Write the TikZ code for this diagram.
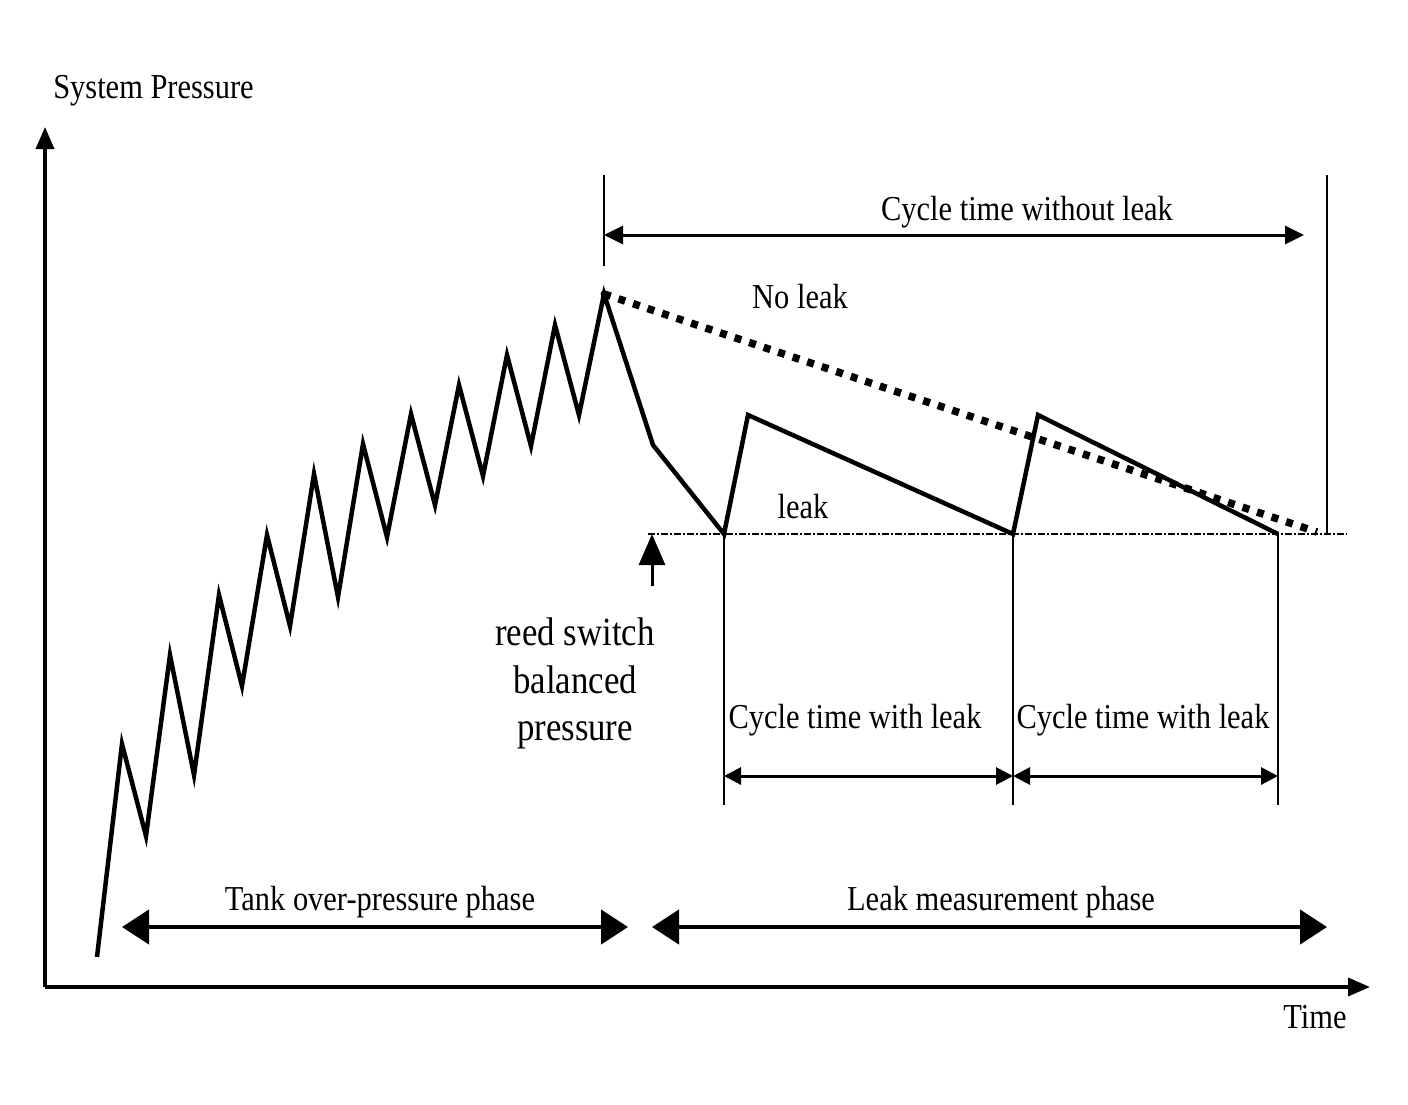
\documentclass[tikz,border=0pt]{standalone}
\usepackage{fontspec}
\setmainfont{Liberation Serif}[FakeStretch=0.87]
\usetikzlibrary{arrows.meta}
\tikzset{
  lbl/.style={anchor=base, inner sep=0pt, font=\fontsize{35}{40}\selectfont},
  biglbl/.style={anchor=base, inner sep=0pt, font=\fontsize{40}{46}\selectfont},
  axis/.style={line width=3.6pt, -{Triangle[length=22pt,width=18pt]}},
  curve/.style={line width=4.5pt, line join=miter, miter limit=10},
  noleak/.style={line width=7.5pt, dash pattern=on 7pt off 8.3pt},
  refline/.style={line width=1.4pt, dash pattern=on 7pt off 2pt on 2pt off 2pt},
  guide/.style={line width=1.4pt},
  phase/.style={line width=4.5pt, {Triangle[length=27pt,width=34pt]}-{Triangle[length=27pt,width=34pt]}},
  cyc/.style={line width=3pt, {Triangle[length=17pt,width=17pt]}-{Triangle[length=17pt,width=17pt]}},
  cycone/.style={line width=3pt, {Triangle[length=19pt,width=18pt]}-{Triangle[length=19pt,width=18pt]}},
  upar/.style={line width=3pt, -{Triangle[length=31pt,width=26pt]}}
}
\begin{document}
\begin{tikzpicture}[x=1pt,y=-1pt]
\useasboundingbox (0,0) rectangle (1408,1104);
% axes
\coordinate (O) at (45,987);
\coordinate (ytip) at (45,127);
\coordinate (xtip) at (1370,987);
\draw[axis] (O) -- (ytip);
\draw[axis] (O) -- (xtip);
% key points
\coordinate (peak) at (604,294);
\coordinate (k1) at (653,445);
\coordinate (b1) at (724,534);
\coordinate (t1) at (748,415);
\coordinate (b2) at (1013,534);
\coordinate (t2) at (1038,415);
\coordinate (b3) at (1278,534);
\coordinate (nlend) at (1317,532);
% reference (balanced) line
\coordinate (rl) at (648,534);
\coordinate (rr) at (1347,534);
\draw[refline] (rl) -- (rr);
% no leak
\draw[noleak] (peak) -- (nlend);
% pressure curve
\draw[curve] (97,957) -- (122,744) -- (146,836) -- (170,655) -- (194,775) -- (219,595)
  -- (242,686) -- (267,535) -- (290,626) -- (314,474) -- (338,597) -- (363,444)
  -- (387,537) -- (411,414) -- (435,505) -- (459,385) -- (483,476) -- (507,355)
  -- (531,446) -- (555,325) -- (579,415) -- (peak) -- (k1) -- (b1) -- (t1) -- (b2) -- (t2) -- (b3);
\fill (peak) circle (3.5pt);
% guides
\coordinate (g0t) at (604,175); \coordinate (g0b) at (604,266);
\coordinate (g4t) at (1327,175); \coordinate (g4b) at (1327,534);
\coordinate (g1b) at (724,805); \coordinate (g2b) at (1013,805); \coordinate (g3b) at (1278,805);
\draw[guide] (g0t) -- (g0b);
\draw[guide] (g4t) -- (g4b);
\draw[guide] (b1) -- (g1b);
\draw[guide] (b2) -- (g2b);
\draw[guide] (b3) -- (g3b);
% cycle without leak
\coordinate (cw1) at (604,235); \coordinate (cw2) at (1304,235);
\draw[cycone] (cw1) -- (cw2);
% cycles with leak
\coordinate (c1) at (724,776); \coordinate (c2) at (1013,776); \coordinate (c3) at (1278,776);
\draw[cyc] (c1) -- (c2);
\draw[cyc] (c2) -- (c3);
% phases
\coordinate (p1) at (122,927); \coordinate (p2) at (628,927);
\coordinate (p3) at (652,927); \coordinate (p4) at (1327,927);
\draw[phase] (p1) -- (p2);
\draw[phase] (p3) -- (p4);
% reed switch arrow
\coordinate (ra) at (652,586); \coordinate (rt) at (652,534);
\draw[upar] (ra) -- (rt);
% labels
\node[lbl] (ylab) at (153.5,98) {System Pressure};
\node[lbl] (xlab) at (1315,1028) {Time};
\node[lbl] (cwl) at (1027,220) {Cycle time without leak};
\node[lbl] (nl) at (800,308) {No leak};
\node[lbl] (lk) at (803,518) {leak};
\node[biglbl] (rs1) at (575,645) {reed switch};
\node[biglbl] (rs2) at (575,693) {balanced};
\node[biglbl] (rs3) at (575,740) {pressure};
\node[lbl] (cl1) at (855,728) {Cycle time with leak};
\node[lbl] (cl2) at (1143,728) {Cycle time with leak};
\node[lbl] (tp) at (380,910) {Tank over-pressure phase};
\node[lbl] (lm) at (1001,910) {Leak measurement phase};
\end{tikzpicture}
\end{document}
